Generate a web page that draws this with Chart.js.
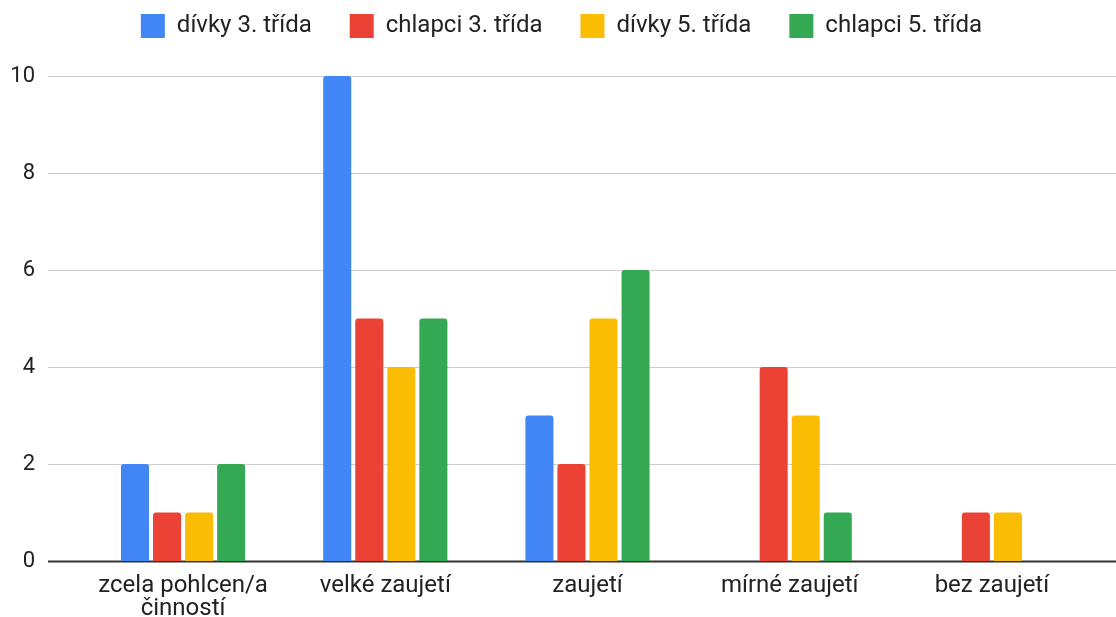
<!DOCTYPE html>
<html>
<head>
<meta charset="utf-8">
<script src="https://cdn.jsdelivr.net/npm/chart.js@4"></script>
<style>
  html, body { margin: 0; padding: 0; background: #fff; }
  #wrap { width: 1116px; height: 617px; }
</style>
</head>
<body>
<div id="wrap"><canvas id="chart"></canvas></div>
<script>
// Kategorie a hodnoty
const categories = [['zcela pohlcen/a', 'činností'], 'velké zaujetí', 'zaujetí', 'mírné zaujetí', 'bez zaujetí'];
const seriesNames = ['dívky 3. třída', 'chlapci 3. třída', 'dívky 5. třída', 'chlapci 5. třída'];
const divky3 = [2, 10, 3, 0, 0];
const chlapci3 = [1, 5, 2, 4, 1];
const divky5 = [1, 4, 5, 3, 1];
const chlapci5 = [2, 5, 6, 1, 0];
const yTicks = [0, 2, 4, 6, 8, 10];

const colors = ['#4285F4', '#EA4335', '#FBBC04', '#34A853'];
const values = [divky3, chlapci3, divky5, chlapci5];

// mřížka přes celou šířku jako v Google grafu
const fullGrid = {
    id: 'fullGrid',
    beforeDatasetsDraw(chart) {
        const ctx = chart.ctx;
        const y = chart.scales.y;
        ctx.save();
        yTicks.forEach(function(t) {
            const py = Math.round(y.getPixelForValue(t)) + 0.5;
            ctx.strokeStyle = t === 0 ? '#333333' : '#cccccc';
            ctx.lineWidth = t === 0 ? 2 : 1;
            ctx.beginPath();
            ctx.moveTo(48, py);
            ctx.lineTo(chart.width, py);
            ctx.stroke();
        });
        ctx.restore();
    }
};

// mezera pod legendou
const legendGap = {
    id: 'legendGap',
    beforeLayout(chart) {
        const lg = chart.legend;
        if (lg && !lg._gapAdded) {
            const fit = lg.fit;
            lg.fit = function() {
                fit.call(this);
                this.height += 28;
            };
            lg._gapAdded = true;
        }
    }
};

Chart.defaults.font.family = 'Roboto, "Noto Sans", sans-serif';
Chart.defaults.color = '#222222';

new Chart(document.getElementById('chart'), {
    type: 'bar',
    data: {
        labels: categories,
        datasets: seriesNames.map(function(name, i) {
            return {
                label: name,
                data: values[i],
                backgroundColor: colors[i],
                borderRadius: { topLeft: 3, topRight: 3 },
                borderSkipped: 'bottom',
                categoryPercentage: 0.634,
                barPercentage: 0.875
            };
        })
    },
    options: {
        responsive: true,
        maintainAspectRatio: false,
        animation: false,
        layout: { padding: { left: 7, right: 0, top: -24, bottom: 0 } },
        plugins: {
            tooltip: { enabled: false },
            legend: {
                position: 'top',
                labels: {
                    boxWidth: 24,
                    boxHeight: 24,
                    padding: 38,
                    font: { size: 24 },
                    color: '#222222'
                }
            }
        },
        scales: {
            x: {
                grid: { display: false, drawTicks: false },
                border: { display: false },
                afterFit: function(scale) {
                    scale.height = 56;
                    scale.paddingRight = 23;
                },
                ticks: { font: { size: 24, lineHeight: 0.98 }, padding: 13, maxRotation: 0, autoSkip: false, color: '#222222' }
            },
            y: {
                min: 0,
                max: 10,
                grid: { display: false, drawTicks: false },
                border: { display: false },
                afterFit: function(scale) {
                    scale.width = 75;
                    scale.paddingTop = 0;
                    scale.paddingBottom = 0;
                },
                afterBuildTicks: function(scale) {
                    scale.ticks = yTicks.map(function(v) { return { value: v }; });
                },
                ticks: { font: { size: 22 }, padding: 47, color: '#222222' }
            }
        }
    },
    plugins: [fullGrid, legendGap]
});
</script>
</body>
</html>
